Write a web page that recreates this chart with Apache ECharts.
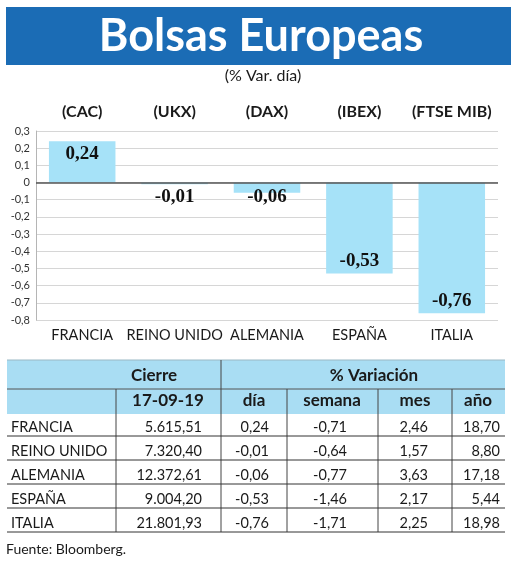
<!DOCTYPE html>
<html>
<head>
<meta charset="utf-8">
<script src="https://cdn.jsdelivr.net/npm/echarts@6/dist/echarts.min.js"></script>
<style>
html,body{margin:0;padding:0;background:#fff;}
#chart{width:520px;height:564px;}
</style>
</head>
<body>
<div id="chart"></div>
<script>
// ---- data ----
const categories = ['FRANCIA', 'REINO UNIDO', 'ALEMANIA', 'ESPAÑA', 'ITALIA'];
const indexNames = ['(CAC)', '(UKX)', '(DAX)', '(IBEX)', '(FTSE MIB)'];
const dayChange = [0.24, -0.01, -0.06, -0.53, -0.76];
const closeValues = [5615.51, 7320.40, 12372.61, 9004.20, 21801.93];
const weekChange = [-0.71, -0.64, -0.77, -1.46, -1.71];
const monthChange = [2.46, 1.57, 3.63, 2.17, 2.25];
const yearChange = [18.70, 8.80, 17.18, 5.44, 18.98];
const yMin = -0.8, yMax = 0.3, yStep = 0.1;
const closeDate = '17-09-19';

// ---- helpers ----
function fmt(v, dec) {
  const s = Math.abs(v).toFixed(dec).split('.');
  const int = s[0].replace(/\B(?=(\d{3})+(?!\d))/g, '.');
  return (v < 0 ? '-' : '') + int + (dec ? ',' + s[1] : '');
}

const FONT = 'Lato';
const BLUE = '#1b6cb5';
const LIGHT = '#a9ddf3';
const BAR = '#a6e2f8';

// ---- table graphic ----
const colX = [7, 116, 221, 287, 378, 452, 505];
const headTop = 360, headMid = 389, headBot = 414;
const rowStep = 24, firstRowCenter = 427;
const g = [];
function txt(text, x, y, size, weight, align, color, family) {
  g.push({type: 'text', silent: true, style: {
    text: text, x: x, y: y,
    fontSize: size, fontWeight: weight || 'normal', fontFamily: family || FONT,
    fill: color || '#1a1a1a',
    align: align || 'left', verticalAlign: 'middle',
    textAlign: align || 'left', textVerticalAlign: 'middle'
  }});
}
function line(x1, y1, x2, y2, color, w) {
  g.push({type: 'line', silent: true, shape: {x1: x1, y1: y1, x2: x2, y2: y2},
    style: {stroke: color, lineWidth: w || 1}});
}
// banner
g.push({type: 'rect', silent: true, shape: {x: 6, y: 7, width: 505, height: 58}, style: {fill: BLUE}});
txt('Bolsas Europeas', 261, 36, 45, 'bold', 'center', '#ffffff');
txt('(% Var. día)', 263, 76, 16, 'normal', 'center', '#1a1a1a');
// table header
g.push({type: 'rect', silent: true, shape: {x: colX[0], y: headTop, width: colX[6] - colX[0], height: headBot - headTop}, style: {fill: LIGHT}});
line(colX[0], headTop, colX[6], headTop, '#9bb8c4', 1);
line(colX[0], headMid, colX[6], headMid, '#555', 1);
txt('Cierre', 154, 376, 17, 'bold', 'center');
txt('% Variación', 374, 376, 17, 'bold', 'center');
txt(closeDate, 168, 401, 17, 'bold', 'center');
txt('día', 254, 401, 17, 'bold', 'center');
txt('semana', 332, 401, 17, 'bold', 'center');
txt('mes', 415, 401, 17, 'bold', 'center');
txt('año', 478, 401, 17, 'bold', 'center');
// vertical lines
const tableBottom = firstRowCenter + rowStep * (categories.length - 1) + 9;
line(colX[2], headTop, colX[2], tableBottom, '#444', 1);
[1, 3, 4, 5].forEach(i => line(colX[i], headMid, colX[i], tableBottom, '#444', 1));
// rows
const rightEdges = [202, 269, 347, 428, 500];
const BODY = 14.5;
categories.forEach((c, i) => {
  const y = firstRowCenter + i * rowStep;
  txt(c, 11, y, BODY, 'normal', 'left');
  txt(fmt(closeValues[i], 2), rightEdges[0], y, BODY, 'normal', 'right');
  txt(fmt(dayChange[i], 2), rightEdges[1], y, BODY, 'normal', 'right');
  txt(fmt(weekChange[i], 2), rightEdges[2], y, BODY, 'normal', 'right');
  txt(fmt(monthChange[i], 2), rightEdges[3], y, BODY, 'normal', 'right');
  txt(fmt(yearChange[i], 2), rightEdges[4], y, BODY, 'normal', 'right');
  line(colX[0], y + 9, colX[6], y + 9, '#333', 1);
});
txt('Fuente: Bloomberg.', 6, 549, 14, 'normal', 'left');

// ---- chart ----
const chart = echarts.init(document.getElementById('chart'), null, {renderer: 'canvas'});
const option = {
  animation: false,
  backgroundColor: '#ffffff',
  grid: {left: 36, right: 22, top: 131, bottom: 244},
  xAxis: [{
    type: 'category', data: categories, position: 'bottom',
    axisLine: {show: false}, axisTick: {show: false},
    axisLabel: {margin: 8, fontFamily: FONT, fontSize: 14.5, color: '#1a1a1a', interval: 0}
  }, {
    type: 'category', data: indexNames, position: 'top',
    axisLine: {show: false}, axisTick: {show: false},
    axisLabel: {margin: 11, fontFamily: FONT, fontSize: 16, fontWeight: 'bold', color: '#1a1a1a', interval: 0}
  }],
  yAxis: {
    type: 'value', min: yMin, max: yMax, interval: yStep,
    axisLine: {show: true, lineStyle: {color: '#b5b5b5', width: 1}},
    axisTick: {show: false},
    splitLine: {show: true, lineStyle: {color: '#d6d6d6', width: 1}},
    axisLabel: {margin: 6, fontFamily: FONT, fontSize: 11, color: '#333',
      formatter: v => Math.abs(v) < 1e-9 ? '0' : fmt(v, 1)}
  },
  series: [{
    type: 'bar', xAxisIndex: 0,
    barCategoryGap: '28%',
    itemStyle: {color: BAR},
    data: dayChange.map(v => ({
      value: v,
      label: {position: (v > 0 || Math.abs(v) < 0.2) ? 'insideTop' : 'insideBottom',
              distance: Math.abs(v) < 0.2 && v < 0 ? 5 : 3}
    })),
    label: {
      show: true, fontFamily: 'Liberation Serif', fontWeight: 'bold', fontSize: 19, color: '#111',
      formatter: p => fmt(p.value, 2)
    },
    markLine: {
      silent: true, symbol: 'none', label: {show: false},
      lineStyle: {color: '#555', width: 1.5, type: 'solid'},
      data: [{yAxis: 0}]
    }
  }],
  graphic: g
};
chart.setOption(option);
</script>
</body>
</html>
